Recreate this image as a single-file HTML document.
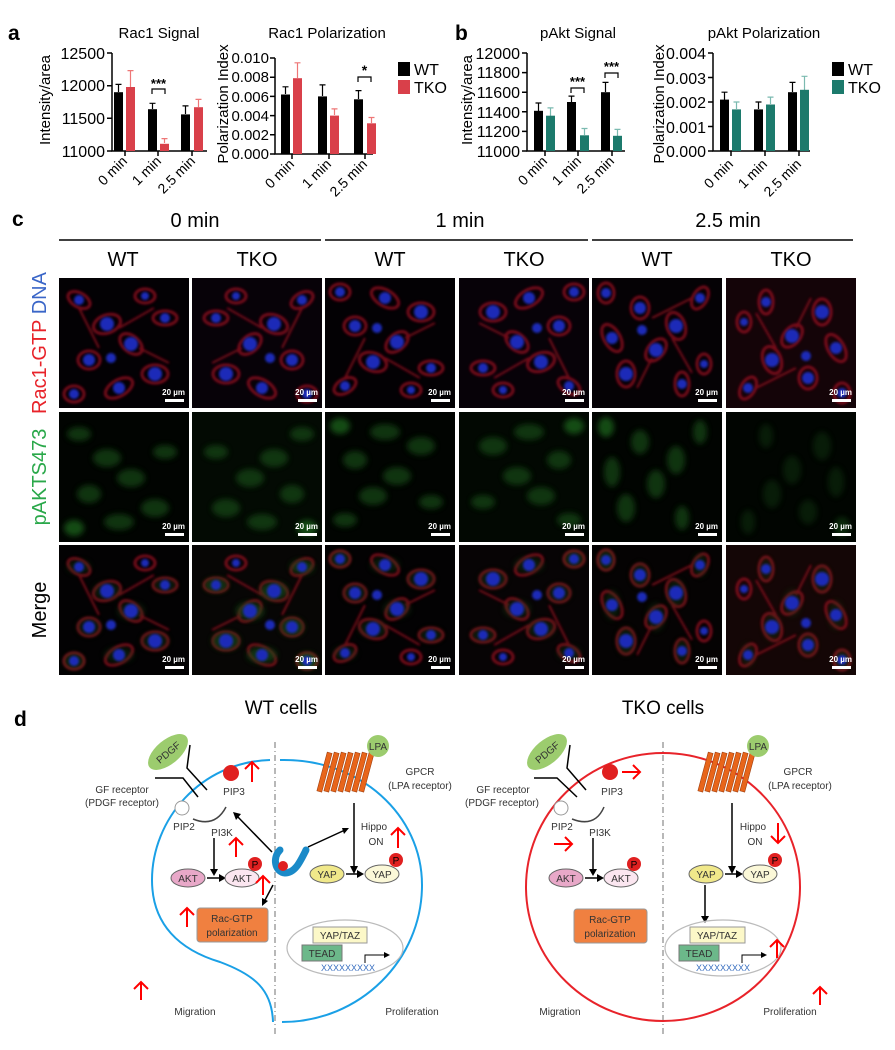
<!DOCTYPE html>
<html><head><meta charset="utf-8"><style>
html,body{margin:0;padding:0;background:#fff;}
svg{display:block;font-family:"Liberation Sans",Arial,sans-serif;}
</style></head><body>
<svg width="895" height="1050" viewBox="0 0 895 1050" xmlns="http://www.w3.org/2000/svg">
<defs>
<filter id="bl" x="-20%" y="-20%" width="140%" height="140%"><feGaussianBlur stdDeviation="1.2"/></filter>
<filter id="bl2" x="-20%" y="-20%" width="140%" height="140%"><feGaussianBlur stdDeviation="3"/></filter>
<clipPath id="cp"><rect x="0" y="0" width="130" height="130"/></clipPath>
<g id="redA" filter="url(#bl)" fill="none" stroke="#a01020" stroke-width="3" opacity=".75">
<ellipse cx="20" cy="22" rx="12" ry="7" transform="rotate(30 20 22)"/>
<ellipse cx="48" cy="46" rx="14" ry="9" transform="rotate(-20 48 46)"/>
<ellipse cx="30" cy="82" rx="11" ry="9"/>
<ellipse cx="72" cy="66" rx="13" ry="8" transform="rotate(40 72 66)"/>
<ellipse cx="96" cy="96" rx="13" ry="9"/>
<ellipse cx="60" cy="110" rx="15" ry="8" transform="rotate(-30 60 110)"/>
<ellipse cx="106" cy="40" rx="12" ry="7"/>
<ellipse cx="15" cy="116" rx="10" ry="8"/>
<ellipse cx="86" cy="18" rx="10" ry="7"/>
<path d="M20,30 L40,70 M80,70 L110,85 M60,50 L95,30" stroke-width="2"/>
</g>
<g id="bluA" filter="url(#bl)" fill="#1a2cb8">
<circle cx="20" cy="22" r="5"/><circle cx="48" cy="46" r="7"/>
<circle cx="30" cy="82" r="6"/><circle cx="72" cy="66" r="7"/>
<circle cx="96" cy="96" r="7"/><circle cx="60" cy="110" r="6"/>
<circle cx="106" cy="40" r="5"/><circle cx="15" cy="116" r="5"/>
<circle cx="86" cy="18" r="4"/><circle cx="52" cy="80" r="5"/>
</g>
<g id="grnA" filter="url(#bl2)" fill="#124a12" opacity=".7">
<ellipse cx="20" cy="22" rx="12" ry="7"/>
<ellipse cx="48" cy="46" rx="14" ry="9"/>
<ellipse cx="30" cy="82" rx="12" ry="9"/>
<ellipse cx="72" cy="66" rx="14" ry="9"/>
<ellipse cx="96" cy="96" rx="14" ry="9"/>
<ellipse cx="60" cy="110" rx="15" ry="8"/>
<ellipse cx="106" cy="40" rx="12" ry="7"/>
<ellipse cx="15" cy="116" rx="10" ry="8" fill="#1e6a1e"/>
</g>
<g id="sb"><text x="126" y="117" font-size="8" fill="#fff" text-anchor="end" font-weight="bold">20 µm</text><rect x="106" y="121" width="19" height="3" fill="#fff"/></g>
</defs>

<text x="8" y="40" font-size="21" font-weight="bold">a</text>
<text x="455" y="40" font-size="21" font-weight="bold">b</text>

<!-- Chart a1 -->
<g font-size="16">
<text x="159" y="38" font-size="15" text-anchor="middle">Rac1 Signal</text>
<text transform="translate(50,100) rotate(-90)" text-anchor="middle" font-size="15">Intensity/area</text>
<g stroke="#000" stroke-width="1.5" fill="none"><path d="M112,53V151H207"/><path d="M107,53H112M107,85.7H112M107,118.3H112M107,151H112"/><path d="M125,151v5M158,151v5M192,151v5"/></g>
<g text-anchor="end"><text x="105" y="59">12500</text><text x="105" y="91">12000</text><text x="105" y="124">11500</text><text x="105" y="157">11000</text></g>
<g stroke="#000" stroke-width="1.2" fill="none"><path d="M118.5,92V84.4M115.5,84.4h6M152.5,109V103.3M149.5,103.3h6M185.5,114V105.9M182.5,105.9h6"/></g>
<g stroke="#e77" stroke-width="1.2" fill="none"><path d="M130.5,87V70.6M127.5,70.6h6M164.5,143V138.6M161.5,138.6h6M198.5,107V99.4M195.5,99.4h6"/></g>
<rect x="114" y="92.2" width="9" height="58.8"/><rect x="148" y="109.2" width="9" height="41.8"/><rect x="181" y="114.4" width="9" height="36.6"/>
<g fill="#d9404a"><rect x="126" y="87" width="9" height="64"/><rect x="160" y="143.8" width="9" height="7.2"/><rect x="194" y="107.2" width="9" height="43.8"/></g>
<path d="M152,94V89H165V94" stroke="#000" fill="none" stroke-width="1.2"/><text x="158.5" y="88" text-anchor="middle" font-size="13" font-weight="bold">***</text>
<g font-size="14" text-anchor="end"><text transform="translate(128,162) rotate(-45)">0 min</text><text transform="translate(162,162) rotate(-45)">1 min</text><text transform="translate(196,162) rotate(-45)">2.5 min</text></g>
</g>

<!-- Chart a2 -->
<g font-size="15">
<text x="327" y="38" font-size="15" text-anchor="middle">Rac1 Polarization</text>
<text transform="translate(228,104) rotate(-90)" text-anchor="middle" font-size="15">Polarization Index</text>
<g stroke="#000" stroke-width="1.5" fill="none"><path d="M275,58V154H373"/><path d="M270,58H275M270,77.2H275M270,96.4H275M270,115.6H275M270,134.8H275M270,154H275"/><path d="M292,154v5M329,154v5M365,154v5"/></g>
<g text-anchor="end"><text x="269" y="63">0.010</text><text x="269" y="82">0.008</text><text x="269" y="102">0.006</text><text x="269" y="121">0.004</text><text x="269" y="140">0.002</text><text x="269" y="159">0.000</text></g>
<g stroke="#000" stroke-width="1.2" fill="none"><path d="M285.5,94V86.8M282.5,86.8h6M322.5,96V84.9M319.5,84.9h6M358.5,99V90.6M355.5,90.6h6"/></g>
<g stroke="#e77" stroke-width="1.2" fill="none"><path d="M297.5,78V62.8M294.5,62.8h6M334.5,115V108.9M331.5,108.9h6M371.5,123V117.5M368.5,117.5h6"/></g>
<rect x="281" y="94.5" width="9" height="59.5"/><rect x="318" y="96.4" width="9" height="57.6"/><rect x="354" y="99.3" width="9" height="54.7"/>
<g fill="#d9404a"><rect x="293" y="78.2" width="9" height="75.8"/><rect x="330" y="115.6" width="9" height="38.4"/><rect x="367" y="123.3" width="9" height="30.7"/></g>
<path d="M358,82V77H371V82" stroke="#000" fill="none" stroke-width="1.2"/><text x="364.5" y="75" text-anchor="middle" font-size="14" font-weight="bold">*</text>
<g font-size="14" text-anchor="end"><text transform="translate(295,165) rotate(-45)">0 min</text><text transform="translate(332,165) rotate(-45)">1 min</text><text transform="translate(368,165) rotate(-45)">2.5 min</text></g>
<g font-size="16"><rect x="398" y="62" width="12" height="14"/><text x="414" y="75">WT</text>
<rect x="398" y="80" width="12" height="14" fill="#d9404a"/><text x="414" y="93">TKO</text></g>
</g>

<!-- Chart b1 -->
<g font-size="16">
<text x="578" y="38" font-size="15" text-anchor="middle">pAkt Signal</text>
<text transform="translate(472,100) rotate(-90)" text-anchor="middle" font-size="15">Intensity/area</text>
<g stroke="#000" stroke-width="1.5" fill="none"><path d="M527,53V151H625"/><path d="M522,53H527M522,72.6H527M522,92.2H527M522,111.8H527M522,131.4H527M522,151H527"/><path d="M545,151v5M578,151v5M612,151v5"/></g>
<g text-anchor="end"><text x="520" y="59">12000</text><text x="520" y="78">11800</text><text x="520" y="98">11600</text><text x="520" y="118">11400</text><text x="520" y="137">11200</text><text x="520" y="157">11000</text></g>
<g stroke="#000" stroke-width="1.2" fill="none"><path d="M538.5,111V103M535.5,103h6M571.5,102V96.1M568.5,96.1h6M605.5,92V82.4M602.5,82.4h6"/></g>
<g stroke="#7bbab0" stroke-width="1.2" fill="none"><path d="M550.5,116V107.9M547.5,107.9h6M584.5,135V128.5M581.5,128.5h6M617.5,136V129.4M614.5,129.4h6"/></g>
<rect x="534" y="110.8" width="9" height="40.2"/><rect x="567" y="102" width="9" height="49"/><rect x="601" y="92.2" width="9" height="58.8"/>
<g fill="#1c7a6c"><rect x="546" y="115.7" width="9" height="35.3"/><rect x="580" y="135.3" width="9" height="15.7"/><rect x="613" y="135.8" width="9" height="15.2"/></g>
<path d="M571,93V88H584V93M605,78V73H618V78" stroke="#000" fill="none" stroke-width="1.2"/>
<text x="577.5" y="86" text-anchor="middle" font-size="13" font-weight="bold">***</text><text x="611.5" y="71" text-anchor="middle" font-size="13" font-weight="bold">***</text>
<g font-size="14" text-anchor="end"><text transform="translate(548,162) rotate(-45)">0 min</text><text transform="translate(582,162) rotate(-45)">1 min</text><text transform="translate(615,162) rotate(-45)">2.5 min</text></g>
</g>

<!-- Chart b2 -->
<g font-size="16">
<text x="764" y="38" font-size="15" text-anchor="middle">pAkt Polarization</text>
<text transform="translate(664,104) rotate(-90)" text-anchor="middle" font-size="15">Polarization Index</text>
<g stroke="#000" stroke-width="1.5" fill="none"><path d="M713,53V151H810"/><path d="M708,53H713M708,77.5H713M708,102H713M708,126.5H713M708,151H713"/><path d="M731,151v5M765,151v5M799,151v5"/></g>
<g text-anchor="end"><text x="706" y="59">0.004</text><text x="706" y="84">0.003</text><text x="706" y="108">0.002</text><text x="706" y="133">0.001</text><text x="706" y="157">0.000</text></g>
<g stroke="#000" stroke-width="1.2" fill="none"><path d="M724.5,100V92.2M721.5,92.2h6M758.5,109V102M755.5,102h6M792.5,92V82.4M789.5,82.4h6"/></g>
<g stroke="#7bbab0" stroke-width="1.2" fill="none"><path d="M736.5,109V102M733.5,102h6M770.5,104V97.1M767.5,97.1h6M804.5,90V76.3M801.5,76.3h6"/></g>
<rect x="720" y="99.6" width="9" height="51.4"/><rect x="754" y="109.4" width="9" height="41.6"/><rect x="788" y="92.2" width="9" height="58.8"/>
<g fill="#1c7a6c"><rect x="732" y="109.4" width="9" height="41.6"/><rect x="766" y="104.5" width="9" height="46.5"/><rect x="800" y="89.8" width="9" height="61.2"/></g>
<g font-size="14" text-anchor="end"><text transform="translate(734,165) rotate(-45)">0 min</text><text transform="translate(768,165) rotate(-45)">1 min</text><text transform="translate(802,165) rotate(-45)">2.5 min</text></g>
<rect x="832" y="62" width="12" height="14"/><text x="848" y="75">WT</text>
<rect x="832" y="80" width="12" height="14" fill="#1c7a6c"/><text x="848" y="93">TKO</text>
</g>

<!-- Panel c -->
<text x="12" y="226" font-size="21" font-weight="bold">c</text>
<g font-size="20" text-anchor="middle"><text x="195" y="227">0 min</text><text x="460" y="227">1 min</text><text x="728" y="227">2.5 min</text>
<text x="123" y="266">WT</text><text x="257" y="266">TKO</text><text x="390" y="266">WT</text><text x="524" y="266">TKO</text><text x="657" y="266">WT</text><text x="791" y="266">TKO</text></g>
<path d="M59,240H321M325,240H588M592,240H853" stroke="#000" stroke-width="1.5"/>
<g font-size="20" text-anchor="middle">
<text transform="translate(46,343) rotate(-90)"><tspan fill="#e8232a">Rac1-GTP </tspan><tspan fill="#3a66c8">DNA</tspan></text>
<text transform="translate(46,477) rotate(-90)" fill="#2aa84a">pAKTS473</text>
<text transform="translate(46,610) rotate(-90)" fill="#000">Merge</text>
</g>

<g>
<g transform="translate(59,278)"><g clip-path="url(#cp)"><rect width="130" height="130" fill="#030104"/><use href="#redA"/><use href="#bluA"/><use href="#sb"/></g></g>
<g transform="translate(192,278)"><g clip-path="url(#cp)"><rect width="130" height="130" fill="#070208"/><g transform="translate(130,0) scale(-1,1)"><use href="#redA"/><use href="#bluA"/></g><use href="#sb"/></g></g>
<g transform="translate(325,278)"><g clip-path="url(#cp)"><rect width="130" height="130" fill="#030104"/><g transform="translate(0,130) scale(1,-1)"><use href="#redA"/><use href="#bluA"/></g><use href="#sb"/></g></g>
<g transform="translate(459,278)"><g clip-path="url(#cp)"><rect width="130" height="130" fill="#070208"/><g transform="translate(130,130) scale(-1,-1)"><use href="#redA"/><use href="#bluA"/></g><use href="#sb"/></g></g>
<g transform="translate(592,278)"><g clip-path="url(#cp)"><rect width="130" height="130" fill="#050205"/><g transform="rotate(90 65 65)"><use href="#redA"/><use href="#bluA"/></g><use href="#sb"/></g></g>
<g transform="translate(726,278)"><g clip-path="url(#cp)"><rect width="130" height="130" fill="#140408"/><g transform="rotate(-90 65 65)"><use href="#redA"/><use href="#bluA"/></g><use href="#sb"/></g></g>
</g>
<g>
<g transform="translate(59,412)"><g clip-path="url(#cp)"><rect width="130" height="130" fill="#010401"/><use href="#grnA"/><use href="#sb"/></g></g>
<g transform="translate(192,412)"><g clip-path="url(#cp)"><rect width="130" height="130" fill="#030a03"/><g transform="translate(130,0) scale(-1,1)"><use href="#grnA"/></g><use href="#sb"/></g></g>
<g transform="translate(325,412)"><g clip-path="url(#cp)"><rect width="130" height="130" fill="#010401"/><g transform="translate(0,130) scale(1,-1)"><use href="#grnA"/></g><use href="#sb"/></g></g>
<g transform="translate(459,412)"><g clip-path="url(#cp)"><rect width="130" height="130" fill="#020802"/><g transform="translate(130,130) scale(-1,-1)"><use href="#grnA"/></g><use href="#sb"/></g></g>
<g transform="translate(592,412)"><g clip-path="url(#cp)"><rect width="130" height="130" fill="#010401"/><g transform="rotate(90 65 65)"><use href="#grnA"/></g><use href="#sb"/></g></g>
<g transform="translate(726,412)"><g clip-path="url(#cp)"><rect width="130" height="130" fill="#010501"/><g transform="rotate(-90 65 65)" opacity=".5"><use href="#grnA"/></g><use href="#sb"/></g></g>
</g>
<g>
<g transform="translate(59,545)"><g clip-path="url(#cp)"><rect width="130" height="130" fill="#030203"/><use href="#redA"/><use href="#grnA" opacity=".5"/><use href="#bluA"/><use href="#sb"/></g></g>
<g transform="translate(192,545)"><g clip-path="url(#cp)"><rect width="130" height="130" fill="#070605"/><g transform="translate(130,0) scale(-1,1)"><use href="#redA"/><use href="#grnA"/><use href="#bluA"/></g><use href="#sb"/></g></g>
<g transform="translate(325,545)"><g clip-path="url(#cp)"><rect width="130" height="130" fill="#030203"/><g transform="translate(0,130) scale(1,-1)"><use href="#redA"/><use href="#grnA" opacity=".5"/><use href="#bluA"/></g><use href="#sb"/></g></g>
<g transform="translate(459,545)"><g clip-path="url(#cp)"><rect width="130" height="130" fill="#070405"/><g transform="translate(130,130) scale(-1,-1)"><use href="#redA"/><use href="#grnA" opacity=".5"/><use href="#bluA"/></g><use href="#sb"/></g></g>
<g transform="translate(592,545)"><g clip-path="url(#cp)"><rect width="130" height="130" fill="#050303"/><g transform="rotate(90 65 65)"><use href="#redA"/><use href="#grnA" opacity=".5"/><use href="#bluA"/></g><use href="#sb"/></g></g>
<g transform="translate(726,545)"><g clip-path="url(#cp)"><rect width="130" height="130" fill="#140606"/><g transform="rotate(-90 65 65)"><use href="#redA"/><use href="#grnA" opacity=".4"/><use href="#bluA"/></g><use href="#sb"/></g></g>
</g>

<!-- Panel d -->
<text x="14" y="726" font-size="21" font-weight="bold">d</text>
<text x="281" y="714" font-size="19" text-anchor="middle">WT cells</text>
<text x="663" y="714" font-size="19" text-anchor="middle">TKO cells</text>
<path d="M275,742V1035M663,742V1035" stroke="#888" stroke-width="1.2" stroke-dasharray="6,3,1,3"/>

<path d="M280,760 C360,758 422,815 422,885 C422,960 360,1022 282,1022" stroke="#1aa0e6" stroke-width="2" fill="none"/>
<path d="M270,760 C200,762 152,820 152,880 C152,925 180,950 220,962 C255,975 272,990 273,1022" stroke="#1aa0e6" stroke-width="2" fill="none"/>
<ellipse cx="663" cy="887" rx="137" ry="134" stroke="#e8232a" stroke-width="2" fill="none"/>

<g font-size="10" fill="#333">
<ellipse cx="168" cy="752" rx="24" ry="12" fill="#9ccc6e" transform="rotate(-40 168 752)"/>
<text x="168" y="756" text-anchor="middle" transform="rotate(-40 168 752)">PDGF</text>
<path d="M155,778L183,778L198,797M190,745L187,768L207,790" stroke="#000" stroke-width="1.5" fill="none"/>
<text x="122" y="793" text-anchor="middle">GF receptor</text><text x="122" y="806" text-anchor="middle">(PDGF receptor)</text>
<circle cx="182" cy="808" r="7" fill="#fff" stroke="#999"/>
<circle cx="231" cy="773" r="8" fill="#e02020"/>
<text x="234" y="795" text-anchor="middle">PIP3</text><text x="184" y="830" text-anchor="middle">PIP2</text><text x="222" y="836" text-anchor="middle">PI3K</text>
<path d="M193,819 Q215,828 226,807" stroke="#444" stroke-width="1.5" fill="none"/>
<path d="M214,838V872" stroke="#000" stroke-width="1.5"/><path d="M210,869L214,876L218,869Z" fill="#000"/>
<ellipse cx="188" cy="878" rx="17" ry="9" fill="#e8a8c8" stroke="#666"/><text x="188" y="882" text-anchor="middle">AKT</text>
<path d="M207,878H220" stroke="#000" stroke-width="1.5"/><path d="M219,874L226,878L219,882Z" fill="#000"/>
<ellipse cx="242" cy="878" rx="17" ry="9" fill="#fbe6f0" stroke="#666"/><text x="242" y="882" text-anchor="middle">AKT</text>
<circle cx="255" cy="864" r="7" fill="#e02020"/><text x="255" y="868" text-anchor="middle" fill="#000">P</text>
<rect x="197" y="908" width="71" height="34" rx="3" fill="#f08040" stroke="#999"/>
<text x="232" y="922" text-anchor="middle">Rac-GTP</text><text x="232" y="936" text-anchor="middle">polarization</text>
<text x="195" y="1015" text-anchor="middle">Migration</text>
</g>
<path d="M280,850 C272,858 275,872 285,873 C295,873 300,862 306,850" stroke="#1a8ac8" stroke-width="7" fill="none" stroke-linecap="round"/>
<circle cx="283" cy="866" r="5" fill="#e02020"/>
<g stroke="#000" stroke-width="1.5" fill="none"><path d="M272,852L236,815M308,847L345,830M273,885L264,902"/></g>
<path d="M233,812L241,814L236,820Z M349,828L342,828L344,834Z M262,906L262,898L268,901Z"/>
<g font-size="10" fill="#333">
<g fill="#e8651a" stroke="#a04010" stroke-width=".6">
<rect x="322" y="752" width="5" height="40" transform="rotate(15 324 772)"/><rect x="329" y="752" width="5" height="40" transform="rotate(15 331 772)"/><rect x="336" y="752" width="5" height="40" transform="rotate(15 338 772)"/><rect x="343" y="752" width="5" height="40" transform="rotate(15 345 772)"/><rect x="350" y="752" width="5" height="40" transform="rotate(15 352 772)"/><rect x="357" y="752" width="5" height="40" transform="rotate(15 359 772)"/><rect x="364" y="752" width="5" height="40" transform="rotate(15 366 772)"/>
</g>
<circle cx="378" cy="746" r="11" fill="#9ccc6e"/><text x="378" y="750" text-anchor="middle">LPA</text>
<text x="420" y="775" text-anchor="middle">GPCR</text><text x="420" y="789" text-anchor="middle">(LPA receptor)</text>
<path d="M354,803V868" stroke="#000" stroke-width="1.5"/><path d="M350,866L354,874L358,866Z" fill="#000"/>
<text x="374" y="830" text-anchor="middle">Hippo</text><text x="376" y="845" text-anchor="middle">ON</text>
<ellipse cx="327" cy="874" rx="17" ry="9" fill="#f0e88a" stroke="#666"/><text x="327" y="878" text-anchor="middle">YAP</text>
<path d="M346,874H358" stroke="#000" stroke-width="1.5"/><path d="M357,870L364,874L357,878Z" fill="#000"/>
<ellipse cx="382" cy="874" rx="17" ry="9" fill="#fbf8d8" stroke="#666"/><text x="382" y="878" text-anchor="middle">YAP</text>
<circle cx="396" cy="860" r="7" fill="#e02020"/><text x="396" y="864" text-anchor="middle" fill="#000">P</text>
<ellipse cx="345" cy="948" rx="58" ry="28" fill="none" stroke="#bbb" stroke-width="1.2"/>
<rect x="313" y="927" width="54" height="16" fill="#fcf8c8" stroke="#999"/><text x="340" y="939" text-anchor="middle">YAP/TAZ</text>
<rect x="302" y="945" width="40" height="16" fill="#6cb88a" stroke="#777"/><text x="322" y="957" text-anchor="middle">TEAD</text>
<text x="348" y="971" text-anchor="middle" fill="#3a70c0" font-size="9">XXXXXXXXX</text>
<path d="M365,963V955H385" stroke="#000" fill="none"/><path d="M384,952L390,955L384,958Z" fill="#000"/>
<text x="412" y="1015" text-anchor="middle">Proliferation</text>
</g>
<g stroke="#f00" stroke-width="2" fill="none">
<path d="M252,782V762M245,769L252,762L259,769"/>
<path d="M236,857V838M229,845L236,838L243,845"/>
<path d="M263,895V876M256,883L263,876L270,883"/>
<path d="M187,927V908M180,915L187,908L194,915"/>
<path d="M398,848V828M391,835L398,828L405,835"/>
<path d="M141,1000V982M134,989L141,982L148,989"/>
</g>

<g font-size="10" fill="#333">
<ellipse cx="547" cy="752" rx="24" ry="12" fill="#9ccc6e" transform="rotate(-40 547 752)"/>
<text x="547" y="756" text-anchor="middle" transform="rotate(-40 547 752)">PDGF</text>
<path d="M534,778L557,778L577,797M570,745L567,768L586,790" stroke="#000" stroke-width="1.5" fill="none"/>
<text x="503" y="793" text-anchor="middle">GF receptor</text><text x="502" y="806" text-anchor="middle">(PDGF receptor)</text>
<circle cx="561" cy="808" r="7" fill="#fff" stroke="#999"/>
<circle cx="610" cy="772" r="8" fill="#e02020"/>
<text x="612" y="795" text-anchor="middle">PIP3</text><text x="562" y="830" text-anchor="middle">PIP2</text><text x="600" y="836" text-anchor="middle">PI3K</text>
<path d="M572,819 Q595,828 604,807" stroke="#444" stroke-width="1.5" fill="none"/>
<path d="M593,838V872" stroke="#000" stroke-width="1.5"/><path d="M589,869L593,876L597,869Z" fill="#000"/>
<ellipse cx="566" cy="878" rx="17" ry="9" fill="#e8a8c8" stroke="#666"/><text x="566" y="882" text-anchor="middle">AKT</text>
<path d="M585,878H598" stroke="#000" stroke-width="1.5"/><path d="M597,874L604,878L597,882Z" fill="#000"/>
<ellipse cx="621" cy="878" rx="17" ry="9" fill="#fbe6f0" stroke="#666"/><text x="621" y="882" text-anchor="middle">AKT</text>
<circle cx="634" cy="864" r="7" fill="#e02020"/><text x="634" y="868" text-anchor="middle" fill="#000">P</text>
<rect x="574" y="909" width="73" height="34" rx="3" fill="#f08040" stroke="#999"/>
<text x="610" y="923" text-anchor="middle">Rac-GTP</text><text x="610" y="937" text-anchor="middle">polarization</text>
<text x="560" y="1015" text-anchor="middle">Migration</text>
<g fill="#e8651a" stroke="#a04010" stroke-width=".6">
<rect x="703" y="752" width="5" height="40" transform="rotate(15 705 772)"/><rect x="710" y="752" width="5" height="40" transform="rotate(15 712 772)"/><rect x="717" y="752" width="5" height="40" transform="rotate(15 719 772)"/><rect x="724" y="752" width="5" height="40" transform="rotate(15 726 772)"/><rect x="731" y="752" width="5" height="40" transform="rotate(15 733 772)"/><rect x="738" y="752" width="5" height="40" transform="rotate(15 740 772)"/><rect x="745" y="752" width="5" height="40" transform="rotate(15 747 772)"/>
</g>
<circle cx="758" cy="746" r="11" fill="#9ccc6e"/><text x="758" y="750" text-anchor="middle">LPA</text>
<text x="798" y="775" text-anchor="middle">GPCR</text><text x="800" y="789" text-anchor="middle">(LPA receptor)</text>
<path d="M732,803V868" stroke="#000" stroke-width="1.5"/><path d="M728,866L732,874L736,866Z" fill="#000"/>
<text x="753" y="830" text-anchor="middle">Hippo</text><text x="755" y="845" text-anchor="middle">ON</text>
<ellipse cx="706" cy="874" rx="17" ry="9" fill="#f0e88a" stroke="#666"/><text x="706" y="878" text-anchor="middle">YAP</text>
<path d="M725,874H737" stroke="#000" stroke-width="1.5"/><path d="M736,870L743,874L736,878Z" fill="#000"/>
<ellipse cx="760" cy="874" rx="17" ry="9" fill="#fbf8d8" stroke="#666"/><text x="760" y="878" text-anchor="middle">YAP</text>
<circle cx="775" cy="860" r="7" fill="#e02020"/><text x="775" y="864" text-anchor="middle" fill="#000">P</text>
<path d="M705,885V918" stroke="#000" stroke-width="1.5"/><path d="M701,916L705,923L709,916Z" fill="#000"/>
<ellipse cx="723" cy="948" rx="58" ry="28" fill="none" stroke="#bbb" stroke-width="1.2"/>
<rect x="690" y="927" width="55" height="16" fill="#fcf8c8" stroke="#999"/><text x="717" y="939" text-anchor="middle">YAP/TAZ</text>
<rect x="679" y="945" width="40" height="16" fill="#6cb88a" stroke="#777"/><text x="699" y="957" text-anchor="middle">TEAD</text>
<text x="723" y="971" text-anchor="middle" fill="#3a70c0" font-size="9">XXXXXXXXX</text>
<path d="M742,963V955H762" stroke="#000" fill="none"/><path d="M761,952L767,955L761,958Z" fill="#000"/>
<text x="790" y="1015" text-anchor="middle">Proliferation</text>
</g>
<g stroke="#f00" stroke-width="2" fill="none">
<path d="M622,772H640M633,765L640,772L633,779"/>
<path d="M554,844H572M565,837L572,844L565,851"/>
<path d="M778,823V843M771,836L778,843L785,836"/>
<path d="M777,958V940M770,947L777,940L784,947"/>
<path d="M820,1005V987M813,994L820,987L827,994"/>
</g>
</svg>
</body></html>
